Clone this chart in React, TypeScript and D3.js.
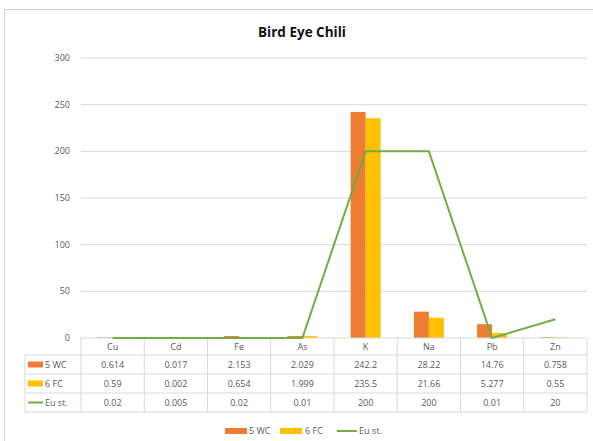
import React from "react";
import * as d3 from "d3";

const categories = ["Cu", "Cd", "Fe", "As", "K", "Na", "Pb", "Zn"];
const wc5 = [0.614, 0.017, 2.153, 2.029, 242.2, 28.22, 14.76, 0.758];
const fc6 = [0.59, 0.002, 0.654, 1.999, 235.5, 21.66, 5.277, 0.55];
const euSt = [0.02, 0.005, 0.02, 0.01, 200, 200, 0.01, 20];
const yTicks = [0, 50, 100, 150, 200, 250, 300];
const seriesNames = ["5 WC", "6 FC", "Eu st."];

const W = 593;
const H = 441;
const ORANGE = "#ed7d31";
const YELLOW = "#ffc000";
const GREEN = "#70ad47";
const GRID = "#d9d9d9";
const TXT = "#595959";
const FONT = "'Open Sans', 'Liberation Sans', sans-serif";

export default function App() {
  const left = 81;
  const right = 587;
  const top = 58;
  const bottom = 338;
  const x = d3.scaleBand<string>().domain(categories).range([left, right]);
  const y = d3.scaleLinear().domain([0, 300]).range([bottom, top]);
  const inner = d3.scaleBand<string>().domain(["a", "b"]).range([0, 30]);
  const bw = x.bandwidth();
  const groupOffset = (bw - 30) / 2;
  const line = d3
    .line<number>()
    .x((_, i) => (x(categories[i]) as number) + bw / 2)
    .y((d) => y(d));

  const rowTops = [338, 355, 374, 393];
  const rowBottom = 412;
  const tableLeft = 25;
  const rows = [
    { name: seriesNames[0], vals: wc5, color: ORANGE, kind: "bar" },
    { name: seriesNames[1], vals: fc6, color: YELLOW, kind: "bar" },
    { name: seriesNames[2], vals: euSt, color: GREEN, kind: "line" },
  ];

  return (
    <svg
      width={W}
      height={H}
      style={{ position: "absolute", left: 0, top: 0, background: "#fff" }}
      fontFamily={FONT}
    >
      <rect x={0} y={0} width={W} height={H} fill="#fff" />
      <rect x={4.5} y={9.5} width={W + 10} height={H + 10} fill="#fff" stroke="#d0d0d0" />
      <text x={302} y={37} textAnchor="middle" fontSize={13.5} fontWeight="bold" fill="#111">
        Bird Eye Chili
      </text>
      {yTicks.map((t) => (
        <g key={t}>
          {t > 0 && (
            <line x1={left} x2={right} y1={y(t)} y2={y(t)} stroke={GRID} strokeWidth={1} />
          )}
          <text x={70} y={y(t) + 3} textAnchor="end" fontSize={9} fill={TXT}>
            {t}
          </text>
        </g>
      ))}
      {categories.map((c, i) => (
        <g key={c}>
          <rect
            x={(x(c) as number) + groupOffset + (inner("a") as number)}
            y={y(wc5[i])}
            width={inner.bandwidth()}
            height={bottom - y(wc5[i])}
            fill={ORANGE}
          />
          <rect
            x={(x(c) as number) + groupOffset + (inner("b") as number)}
            y={y(fc6[i])}
            width={inner.bandwidth()}
            height={bottom - y(fc6[i])}
            fill={YELLOW}
          />
        </g>
      ))}
      {/* table */}
      <line x1={left} x2={right} y1={rowTops[0]} y2={rowTops[0]} stroke={GRID} />
      {rowTops.slice(1).concat([rowBottom]).map((ry) => (
        <line key={ry} x1={tableLeft} x2={right} y1={ry} y2={ry} stroke={GRID} />
      ))}
      <line x1={tableLeft} x2={tableLeft} y1={rowTops[1]} y2={rowBottom} stroke={GRID} />
      {categories.map((c) => (
        <line
          key={c}
          x1={x(c) as number}
          x2={x(c) as number}
          y1={rowTops[0]}
          y2={rowBottom}
          stroke={GRID}
        />
      ))}
      <line x1={right} x2={right} y1={rowTops[0]} y2={rowBottom} stroke={GRID} />
      {categories.map((c) => (
        <text
          key={c}
          x={(x(c) as number) + bw / 2}
          y={rowTops[0] + 12}
          textAnchor="middle"
          fontSize={9}
          fill={TXT}
        >
          {c}
        </text>
      ))}
      {rows.map((r, ri) => {
        const cy = (rowTops[ri + 1] + (ri < 2 ? rowTops[ri + 2] : rowBottom)) / 2;
        return (
          <g key={r.name}>
            {r.kind === "bar" ? (
              <rect x={28} y={cy - 3} width={15} height={6} fill={r.color} />
            ) : (
              <line x1={28} x2={43} y1={cy} y2={cy} stroke={r.color} strokeWidth={2} />
            )}
            <text x={45} y={cy + 3} fontSize={9} fill={TXT}>
              {r.name}
            </text>
            {r.vals.map((v, i) => (
              <text
                key={i}
                x={(x(categories[i]) as number) + bw / 2}
                y={cy + 3}
                textAnchor="middle"
                fontSize={9}
                fill={TXT}
              >
                {String(v)}
              </text>
            ))}
          </g>
        );
      })}
      <path d={line(euSt) as string} fill="none" stroke={GREEN} strokeWidth={2} />
      {/* legend */}
      <g fontSize={9} fill={TXT}>
        <rect x={225} y={428} width={22} height={6} fill={ORANGE} />
        <text x={249} y={434}>{seriesNames[0]}</text>
        <rect x={280} y={428} width={22} height={6} fill={YELLOW} />
        <text x={305} y={434}>{seriesNames[1]}</text>
        <line x1={337} x2={357} y1={431} y2={431} stroke={GREEN} strokeWidth={2} />
        <text x={359} y={434}>{seriesNames[2]}</text>
      </g>
    </svg>
  );
}
